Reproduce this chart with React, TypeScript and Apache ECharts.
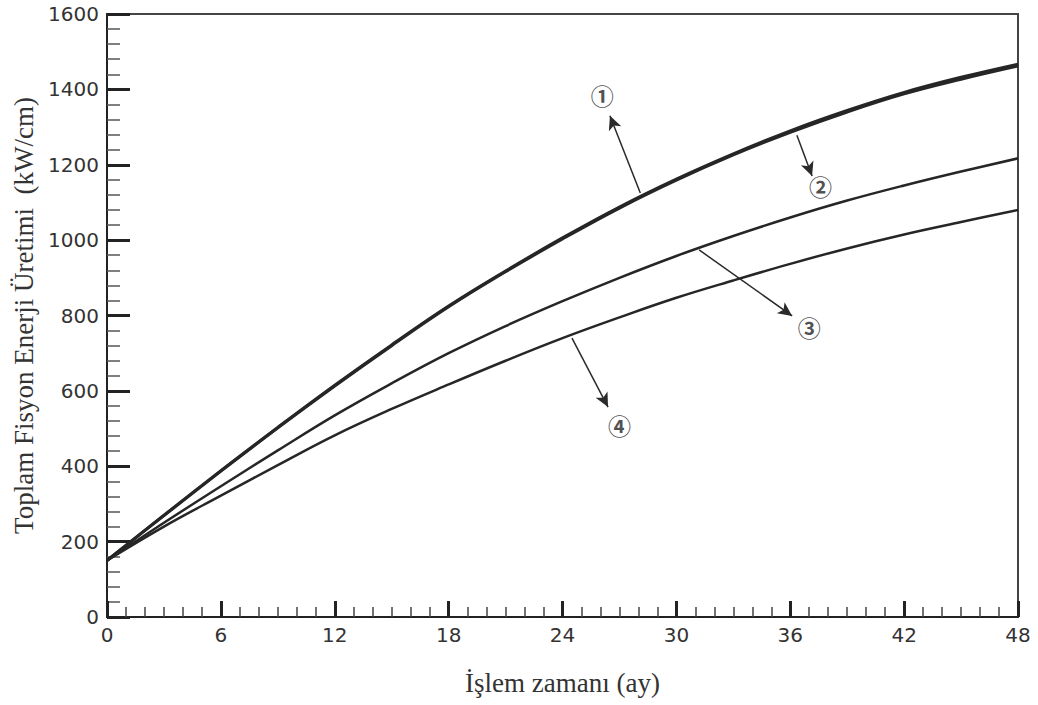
import React, { useEffect, useRef } from "react";
import * as echarts from "echarts";

const months = [0, 3, 6, 9, 12, 15, 18, 21, 24, 27, 30, 33, 36, 39, 42, 45, 48];
const curve1 = [150, 270, 388, 503, 615, 722, 825, 918, 1006, 1088, 1162, 1229, 1290, 1344, 1392, 1432, 1467];
const curve2 = [150, 269, 387, 502, 613, 720, 823, 916, 1003, 1085, 1159, 1226, 1286, 1340, 1388, 1427, 1462];
const curve3 = [150, 250, 347, 442, 535, 620, 700, 772, 838, 900, 958, 1011, 1060, 1105, 1145, 1182, 1217];
const curve4 = [150, 240, 322, 403, 482, 552, 617, 680, 740, 795, 847, 893, 937, 978, 1015, 1048, 1080];

const labelTexts = ["①", "②", "③", "④"];
const labelX = [26.1, 37.6, 37.0, 27.0];
const labelY = [1385, 1144, 769, 509];
const arrowFromX = [28.1, 36.35, 31.2, 24.5];
const arrowFromY = [1125, 1278, 974, 740];
const arrowToX = [26.5, 37.15, 36.1, 26.4];
const arrowToY = [1330, 1170, 799, 557];

const xName = "İşlem zamanı (ay)";
const yName = "Toplam Fisyon Enerji Üretimi  (kW/cm)";

export default function App() {
  const ref = useRef<HTMLDivElement>(null);
  useEffect(() => {
    if (!ref.current) return;
    const chart = echarts.init(ref.current, null, { renderer: "svg" });
    const lineColor = "#262626";
    const mk = (vals: number[], w: number) => ({
      type: "line",
      data: months.map((m, i) => [m, vals[i]]),
      smooth: 0.4,
      showSymbol: false,
      symbol: "none",
      lineStyle: { color: lineColor, width: w },
      z: 3,
    });
    const arrows = labelTexts.map((_, i) => [
      { coord: [arrowFromX[i], arrowFromY[i]] },
      { coord: [arrowToX[i], arrowToY[i]] },
    ]);
    chart.setOption({
      animation: false,
      backgroundColor: "#ffffff",
      grid: {
        left: 107,
        right: 20,
        top: 14,
        bottom: 88,
        show: true,
        borderColor: "#444",
        borderWidth: 2,
        backgroundColor: "transparent",
      },
      xAxis: {
        type: "value",
        min: 0,
        max: 48,
        interval: 6,
        name: xName,
        nameLocation: "middle",
        nameGap: 52,
        nameTextStyle: { fontFamily: "Liberation Serif", fontSize: 27, color: "#333" },
        axisLine: { show: true, lineStyle: { color: "#222", width: 2 } },
        axisTick: { show: true, inside: true, length: 16, lineStyle: { color: "#222", width: 3 } },
        minorTick: { show: true, splitNumber: 6, length: 10, lineStyle: { color: "#444", width: 1.5 } },
        axisLabel: { fontFamily: "DejaVu Sans", fontSize: 20, color: "#333", margin: 8 },
        splitLine: { show: false },
      },
      yAxis: {
        type: "value",
        min: 0,
        max: 1600,
        interval: 200,
        name: yName,
        nameLocation: "middle",
        nameGap: 62,
        nameTextStyle: { fontFamily: "Liberation Serif", fontSize: 27, color: "#333" },
        axisLine: { show: true, lineStyle: { color: "#222", width: 2 } },
        axisTick: { show: true, inside: true, length: 23, lineStyle: { color: "#222", width: 3 } },
        minorTick: { show: true, splitNumber: 5, length: 13, lineStyle: { color: "#555", width: 1.5 } },
        axisLabel: {
          fontFamily: "DejaVu Sans",
          fontSize: 20,
          color: "#333",
          margin: 8,
          formatter: (v: number) => String(v),
        },
        splitLine: { show: false },
      },
      series: [
        mk(curve1, 3),
        mk(curve2, 3),
        mk(curve3, 2.5),
        mk(curve4, 2.5),
        {
          type: "line",
          data: [],
          markLine: {
            silent: true,
            symbol: ["none", "arrow"],
            symbolSize: [10, 14],
            label: { show: false },
            lineStyle: { color: "#2a2a2a", width: 1.5, type: "solid" },
            data: arrows,
          },
        },
        {
          type: "scatter",
          symbolSize: 0,
          data: labelTexts.map((t, i) => [labelX[i], labelY[i], t]),
          label: {
            show: true,
            position: "inside",
            formatter: (p: any) => p.value[2],
            fontFamily: "Noto Sans CJK JP",
            fontWeight: "bold",
            fontSize: 23,
            color: "#222",
          },
          z: 5,
        },
      ],
    });
    return () => chart.dispose();
  }, []);
  return (
    <div
      ref={ref}
      style={{ position: "fixed", left: 0, top: 0, width: 1038, height: 705, background: "#fff" }}
    />
  );
}
